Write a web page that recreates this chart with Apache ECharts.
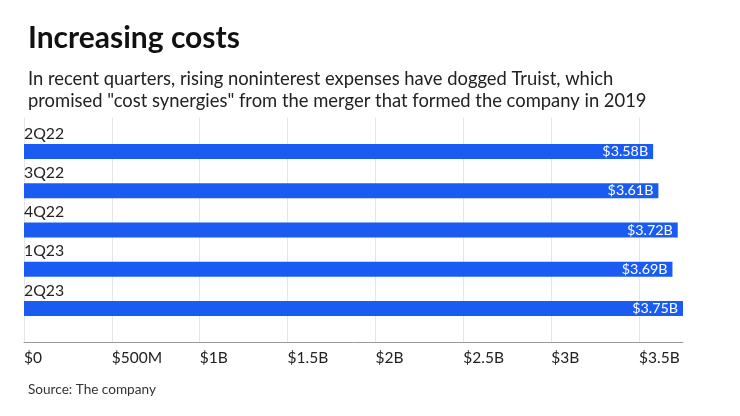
<!DOCTYPE html>
<html><head><meta charset="utf-8">
<script src="https://cdn.jsdelivr.net/npm/echarts@6/dist/echarts.min.js"></script>
<style>html,body{margin:0;padding:0;background:#fff}#c{width:740px;height:416px}</style>
</head><body><div id="c"></div>
<script>
const categories = ['2Q22', '3Q22', '4Q22', '1Q23', '2Q23'];
const values = [3.58, 3.61, 3.72, 3.69, 3.75];
const valueLabels = ['$3.58B', '$3.61B', '$3.72B', '$3.69B', '$3.75B'];
const tickLabels = {0: '$0', 0.5: '$500M', 1: '$1B', 1.5: '$1.5B', 2: '$2B', 2.5: '$2.5B', 3: '$3B', 3.5: '$3.5B'};

const F = 'Lato, "Noto Sans", sans-serif';
const chart = echarts.init(document.getElementById('c'), null, {renderer: 'canvas'});
chart.setOption({
  animation: false,
  textStyle: {fontFamily: F},
  title: [
    {text: 'Increasing costs', left: 23, top: 18,
     textStyle: {fontFamily: F, fontSize: 30, fontWeight: 'bold', color: '#111'}},
    {text: 'In recent quarters, rising noninterest expenses have dogged Truist, which\npromised "cost synergies" from the merger that formed the company in 2019',
     left: 23, top: 63,
     textStyle: {fontFamily: F, fontSize: 18.4, fontWeight: 'normal', color: '#222', lineHeight: 22}},
    {text: 'Source: The company', left: 23, top: 378,
     textStyle: {fontFamily: F, fontSize: 13.6, fontWeight: 'normal', color: '#333'}}
  ],
  grid: [
    {left: 24, right: 57, top: 118, bottom: 74, containLabel: false},
    {left: 24, right: 57, top: 132, height: 196, containLabel: false}
  ],
  xAxis: [
    {type: 'value', gridIndex: 0, min: 0, max: 3.75, interval: 0.5,
     axisLine: {show: true, lineStyle: {color: '#999', width: 1}},
     axisTick: {show: false},
     splitLine: {show: true, showMaxLine: false, lineStyle: {color: '#e6e6e6', width: 1}},
     axisLabel: {show: true, align: 'left', margin: 8, fontFamily: F, fontSize: 15.5, color: '#222',
       showMaxLabel: false,
       formatter: v => (tickLabels[v] !== undefined ? tickLabels[v] : '')}},
    {type: 'value', gridIndex: 1, min: 0, max: 3.75, show: false}
  ],
  yAxis: [
    {type: 'category', gridIndex: 0, data: categories, show: false},
    {type: 'category', gridIndex: 1, data: categories, inverse: true,
     axisLine: {show: false}, axisTick: {show: false},
     axisLabel: {inside: true, margin: 0, align: 'left', verticalAlign: 'bottom',
       padding: [0, 0, 10, 0], fontFamily: F, fontSize: 15.8, color: '#222'}}
  ],
  series: [{
    type: 'bar', xAxisIndex: 1, yAxisIndex: 1, data: values, barWidth: 15,
    itemStyle: {color: '#1a5cf2'},
    label: {show: true, position: 'insideRight', distance: 5, color: '#fff',
      fontFamily: F, fontSize: 14.3, formatter: p => valueLabels[p.dataIndex]}
  }]
});
</script></body></html>
